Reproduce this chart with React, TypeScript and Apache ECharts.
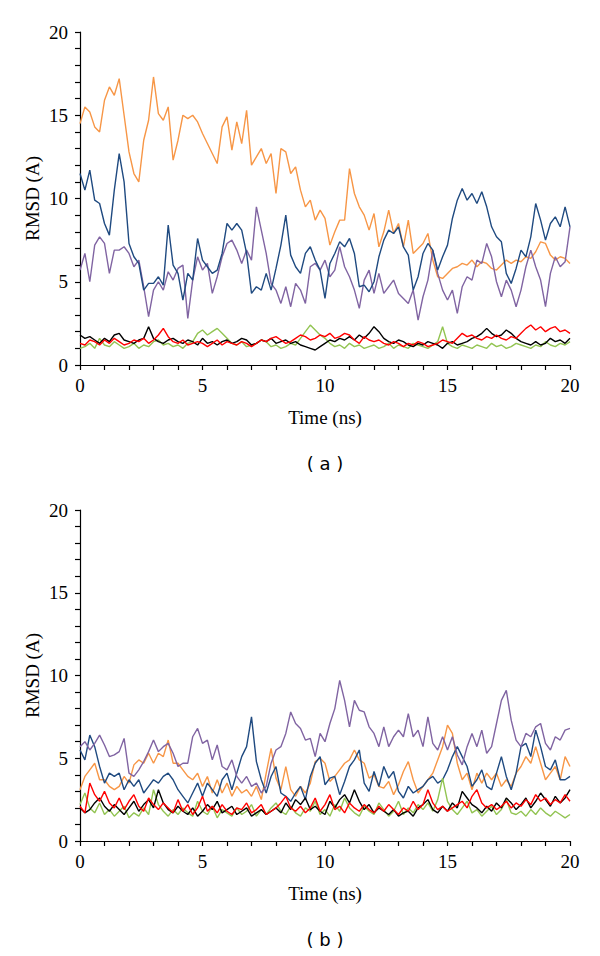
import React, { useEffect, useRef } from "react";
import * as echarts from "echarts";

// ---- Data (RMSD in Å, sampled every 0.2 ns from 0 to 20 ns) ----
const T_MAX = 20;
const X_TICKS = [0, 5, 10, 15, 20];
const Y_TICKS = [0, 5, 10, 15, 20];

// Panel (a)
const orangeA = [
  14.5, 15.5, 15.2, 14.3, 14.0, 15.9, 16.7, 16.2, 17.2, 15.0,
  12.8, 11.5, 11.0, 13.5, 14.7, 17.3, 15.1, 14.7, 15.5, 12.3,
  13.5, 15.0, 14.8, 15.0, 14.6, 13.9, 13.3, 12.7, 12.1, 14.3,
  14.9, 12.9, 14.6, 13.3, 15.3, 12.0, 12.5, 13.0, 12.1, 12.7,
  10.3, 13.0, 12.8, 11.5, 11.9, 10.5, 9.5, 9.9, 8.7, 9.3,
  8.8, 7.2, 8.0, 8.7, 8.7, 11.8, 10.3, 9.5, 9.0, 8.1,
  9.1, 7.1, 8.0, 9.3, 7.9, 8.5, 7.1, 8.7, 6.7, 7.0,
  7.3, 7.9, 6.3, 5.3, 5.2, 5.5, 5.8, 5.9, 6.1, 6.0,
  6.3, 5.9, 6.2, 6.1, 5.8, 5.7, 6.0, 6.3, 6.1, 6.3,
  6.2, 6.5, 6.4, 6.8, 7.4, 7.3, 6.6, 6.3, 6.5, 6.4,
  6.1,
];
const blueA = [
  11.5, 10.5, 11.7, 9.9, 9.7, 8.5, 7.8, 10.5, 12.7, 11.0,
  7.3, 6.5, 6.1, 4.5, 4.9, 4.9, 5.3, 4.8, 8.4, 6.0,
  5.5, 3.9, 5.5, 5.1, 7.6, 6.3, 5.9, 5.5, 5.7, 6.7,
  8.5, 8.1, 8.5, 8.1, 6.7, 4.3, 4.7, 4.5, 5.5, 4.5,
  5.8, 7.2, 9.0, 6.6, 5.9, 5.5, 6.7, 7.1, 6.3, 5.7,
  4.0, 6.1, 6.7, 7.4, 7.1, 7.6, 6.7, 4.7, 4.8, 4.4,
  5.0, 6.5, 7.5, 8.1, 7.9, 8.3, 7.1, 6.6, 4.5, 5.3,
  6.7, 7.3, 6.9, 5.7, 6.5, 7.2, 8.8, 9.9, 10.6, 9.9,
  10.3, 9.7, 10.4, 9.5, 8.3, 7.7, 7.4, 5.5, 4.9, 5.8,
  6.9, 6.5, 7.7, 9.7, 8.7, 7.5, 8.5, 8.9, 8.3, 9.5,
  8.3,
];
const purpleA = [
  5.7, 6.7, 5.0, 7.2, 7.7, 7.3, 5.5, 6.9, 6.9, 7.1,
  6.7, 5.9, 6.3, 4.7, 2.9, 4.5, 5.0, 4.5, 5.6, 5.1,
  5.8, 6.0, 2.8, 5.1, 6.5, 5.7, 6.1, 4.3, 5.3, 6.5,
  7.3, 7.5, 6.9, 6.1, 6.9, 6.3, 9.5, 8.1, 6.7, 4.9,
  4.5, 3.7, 4.7, 3.5, 4.9, 4.5, 3.7, 5.9, 6.1, 5.7,
  6.3, 5.3, 5.7, 7.1, 5.9, 5.3, 4.5, 3.4, 5.1, 5.7,
  4.3, 5.5, 4.3, 4.7, 5.1, 4.3, 4.0, 3.7, 4.5, 2.7,
  4.1, 5.1, 6.9, 5.5, 4.5, 3.9, 4.5, 3.1, 4.7, 5.3,
  5.1, 6.3, 6.1, 7.3, 6.5, 5.0, 4.1, 5.1, 4.5, 3.5,
  4.5, 5.9, 6.9, 5.9, 5.1, 3.5, 5.5, 6.5, 5.9, 6.2,
  8.3,
];
const blackA = [
  1.8, 1.6, 1.7, 1.5, 1.3, 1.6, 1.4, 1.8, 1.9, 1.5,
  1.4, 1.3, 1.5, 1.6, 2.3, 1.6, 1.4, 1.3, 1.5, 1.6,
  1.4, 1.3, 1.5, 1.4, 1.2, 1.6, 1.3, 1.4, 1.2, 1.4,
  1.5, 1.3, 1.4, 1.6, 1.5, 1.2, 1.3, 1.5, 1.4, 1.6,
  1.3, 1.4, 1.5, 1.3, 1.4, 1.2, 1.1, 1.0, 0.9, 1.1,
  1.3, 1.5, 1.4, 1.6, 1.5, 1.7, 1.5, 1.8, 1.6, 1.9,
  2.3, 2.0, 1.6, 1.4, 1.3, 1.5, 1.4, 1.2, 1.1, 1.3,
  1.2, 1.4, 1.3, 1.2, 1.0, 1.3, 1.4, 1.2, 1.3, 1.4,
  1.6, 1.7, 1.9, 2.2, 1.9, 1.7, 1.8, 2.1, 1.9, 1.6,
  1.4, 1.3, 1.2, 1.4, 1.2, 1.3, 1.6, 1.4, 1.5, 1.3,
  1.6,
];
const redA = [
  1.3, 1.2, 1.5, 1.4, 1.2, 1.5, 1.3, 1.6, 1.4, 1.2,
  1.3, 1.5, 1.4, 1.6, 1.3, 1.5, 1.8, 2.2, 1.7, 1.4,
  1.3, 1.5, 1.2, 1.3, 1.4, 1.3, 1.1, 1.3, 1.5, 1.2,
  1.4, 1.3, 1.2, 1.4, 1.3, 1.1, 1.3, 1.5, 1.4, 1.6,
  1.7, 1.5, 1.3, 1.4, 1.6, 1.8, 1.7, 1.5, 1.6, 1.8,
  1.7, 1.9, 1.6, 1.7, 1.9, 1.8, 1.5, 1.3, 1.7, 1.5,
  1.4, 1.5, 1.3, 1.2, 1.4, 1.3, 1.1, 1.3, 1.2, 1.4,
  1.3, 1.1, 1.2, 1.3, 1.5, 1.4, 1.3, 1.6, 1.9, 1.7,
  1.8, 1.6, 1.5, 1.7, 1.6, 1.8, 1.6, 1.5, 1.7, 1.6,
  1.9, 2.2, 2.4, 2.1, 2.3, 2.0, 2.2, 2.3, 2.0, 2.1,
  1.9,
];
const greenA = [
  1.0, 1.1, 1.3, 1.0, 1.6, 1.2, 1.1, 1.4, 1.2, 1.0,
  1.1, 1.3, 1.0, 1.2, 1.1, 1.4, 1.5, 1.2, 1.3, 1.1,
  1.2, 1.0, 1.3, 1.4, 1.9, 2.1, 1.8, 2.0, 2.2, 1.9,
  1.6, 1.3, 1.2, 1.4, 1.1, 1.2, 1.3, 1.5, 1.4, 1.1,
  1.2, 1.0, 1.1, 1.3, 1.2, 1.6, 2.0, 2.4, 2.1, 1.8,
  1.6, 1.3, 1.1, 1.2, 1.0, 1.3, 1.1, 1.2, 1.0, 1.1,
  1.2, 1.0, 1.1, 1.3, 1.0, 1.2, 1.1, 1.0, 1.3, 1.2,
  1.1, 1.0, 1.2, 1.4, 2.3, 1.3, 1.1, 1.0, 1.2, 1.1,
  1.0, 1.2, 1.1, 1.0, 1.3, 1.1, 1.2, 1.0, 1.1, 1.3,
  1.2, 1.1, 1.0, 1.2, 1.1, 1.4, 1.2, 1.1, 1.3, 1.2,
  1.4,
];

// Panel (b)
const orangeB = [
  3.1, 3.9, 4.3, 4.7, 3.7, 3.7, 3.3, 3.1, 3.3, 3.9,
  3.5, 4.6, 4.9, 4.7, 5.3, 4.7, 5.3, 5.1, 6.1, 4.7,
  4.7, 4.3, 3.9, 3.7, 4.1, 3.3, 3.9, 2.9, 3.7, 2.9,
  3.5, 2.7, 3.3, 2.9, 3.1, 2.7, 3.3, 2.5, 4.1, 5.6,
  3.8, 3.1, 4.5, 3.1, 2.7, 3.3, 2.9, 3.5, 4.8, 5.0,
  4.7, 3.6, 3.9, 4.3, 4.7, 4.9, 5.5, 4.9, 4.7, 3.8,
  4.0, 3.3, 3.2, 3.6, 2.8, 3.4, 4.2, 4.8, 3.7, 2.9,
  3.3, 3.7, 4.1, 4.9, 5.7, 7.0, 6.5, 4.7, 3.7, 4.1,
  3.1, 4.1, 3.5, 4.1, 3.7, 4.1, 3.3, 3.7, 3.3, 4.1,
  4.5, 5.1, 4.7, 5.7, 4.7, 3.7, 4.1, 4.5, 3.7, 5.1,
  4.5,
];
const blueB = [
  5.5, 4.9, 6.4, 5.7, 4.5, 3.5, 4.1, 3.9, 4.1, 3.1,
  3.7, 3.3, 3.7, 2.9, 3.3, 3.7, 3.5, 3.9, 4.1, 3.7,
  3.1, 2.7, 2.3, 2.9, 3.5, 2.7, 3.5, 3.1, 2.7, 3.7,
  4.1, 3.1, 4.1, 5.1, 5.7, 7.5, 4.8, 3.7, 2.9, 3.9,
  4.5, 2.9, 2.7, 2.4, 2.9, 3.3, 2.5, 3.9, 4.7, 5.1,
  3.4, 3.8, 3.9, 2.8, 3.6, 4.5, 4.9, 5.5, 3.5, 3.0,
  4.2, 3.3, 4.5, 3.8, 4.2, 3.0, 2.6, 3.3, 2.9, 3.1,
  3.3, 3.7, 3.9, 3.5, 3.7, 4.3, 5.1, 5.7, 5.1, 4.5,
  3.3, 3.7, 4.3, 3.3, 3.1, 4.1, 5.1, 3.9, 3.1, 4.1,
  5.7, 5.9, 5.1, 6.7, 5.7, 4.5, 4.3, 4.9, 3.7, 3.7,
  3.9,
];
const purpleB = [
  5.7, 6.0, 5.5, 5.9, 6.4, 5.8, 5.1, 5.2, 5.4, 6.2,
  4.1, 3.9, 4.3, 4.8, 5.4, 6.1, 5.4, 5.7, 5.9, 5.3,
  4.5, 4.7, 4.7, 6.3, 6.8, 5.9, 6.1, 4.9, 5.8, 4.5,
  4.3, 4.9, 3.9, 3.5, 3.9, 3.3, 3.5, 2.9, 3.3, 4.7,
  5.5, 5.7, 6.5, 7.8, 7.1, 6.8, 6.1, 6.2, 5.1, 6.5,
  6.0, 7.1, 8.0, 9.7, 8.5, 6.9, 8.5, 7.9, 7.8, 6.9,
  6.5, 5.7, 6.9, 5.7, 6.3, 6.7, 6.3, 7.7, 6.3, 6.7,
  5.7, 7.5, 5.9, 5.5, 6.3, 5.5, 6.3, 5.2, 4.6, 5.7,
  6.5, 5.7, 6.7, 5.3, 5.7, 7.1, 8.5, 9.1, 7.3, 6.1,
  5.7, 6.5, 6.3, 6.9, 7.1, 5.9, 5.5, 6.3, 6.1, 6.7,
  6.8,
];
const blackB = [
  2.0, 1.7, 1.9, 2.3, 2.6, 2.1, 1.8, 2.2, 1.9, 1.6,
  2.0, 2.4, 1.8, 2.2, 2.5, 2.0, 3.1, 2.3, 1.9, 1.7,
  2.1, 1.8, 1.6, 2.0, 1.5, 1.8, 2.2, 1.9, 2.4, 1.7,
  1.9, 2.1, 1.6, 1.8, 2.0, 1.5, 1.7, 1.9, 1.6, 1.8,
  2.0, 1.7, 2.3, 1.9, 2.5, 2.2, 2.6, 1.9, 2.1, 1.8,
  1.6, 2.4, 2.0, 2.5, 2.8, 2.3, 3.1, 2.4, 1.9, 2.2,
  1.7, 2.0, 1.8, 1.6, 1.9, 1.5, 1.7, 1.8, 1.5, 2.0,
  2.2, 2.5, 1.9, 1.7, 2.1, 1.8, 2.3, 2.0, 3.0, 2.6,
  2.2, 2.0, 1.7, 2.1, 1.8, 2.3, 2.0, 2.6, 2.3, 1.9,
  2.2, 2.6, 2.0, 2.4, 2.9, 2.5, 2.1, 2.7, 2.3, 2.6,
  3.1,
];
const redB = [
  2.1, 1.7, 3.5, 2.8, 2.4, 3.0, 2.3, 2.0, 2.6, 1.9,
  2.4, 2.8, 2.1, 1.8, 2.6, 2.2, 1.9, 2.3, 2.0, 1.7,
  2.5, 1.8, 2.2, 1.6, 2.0, 2.7, 1.8, 2.1, 1.7, 2.2,
  1.8, 1.6, 2.0, 1.9, 2.3, 1.7, 1.9, 2.2, 1.6, 1.8,
  2.0, 2.3, 2.7, 2.0, 1.8, 2.1, 1.7, 2.0, 2.6, 1.8,
  2.2, 2.8, 1.9, 2.1, 1.7, 2.3, 2.0, 1.8, 2.2, 1.9,
  1.7, 2.1, 1.8, 2.2, 1.9, 1.6, 2.0, 1.8, 2.4, 1.9,
  2.2, 3.1, 2.3, 1.9, 2.1, 1.8, 2.0, 2.2, 2.4, 2.0,
  2.7, 3.1, 2.3, 2.0, 2.2, 1.9, 2.1, 2.4, 2.0, 2.3,
  2.1, 2.5, 2.2, 2.8, 2.4, 2.6, 2.2, 2.5, 2.3, 2.8,
  2.4,
];
const greenB = [
  2.2, 2.9, 2.0, 1.7, 2.3, 1.6, 1.9, 1.5, 1.8, 2.1,
  1.4, 1.7, 1.5, 2.0, 1.6, 3.1, 2.2, 1.8, 1.5, 1.9,
  1.6, 2.0, 1.7, 1.5, 2.4, 1.8, 1.6, 2.1, 1.4, 1.9,
  1.7, 1.5, 2.0, 1.6, 1.8, 2.2, 1.5, 1.9, 1.6, 2.0,
  2.3, 1.8, 1.6, 2.1, 1.7, 1.5, 2.0, 1.8, 2.4, 1.6,
  1.9, 1.5, 2.2, 1.8, 2.6, 2.0, 1.7, 1.5, 2.1, 1.8,
  1.6, 2.3, 1.9, 1.5, 1.8, 2.4, 1.6, 2.0, 1.7, 2.2,
  1.9, 2.3, 1.8, 2.5, 3.8, 2.4, 1.9, 1.6, 2.0, 2.4,
  1.7, 1.9, 1.5, 1.8, 2.1, 1.6, 1.9, 2.5, 1.7, 1.6,
  1.8, 1.5, 1.9, 1.6, 2.0, 1.7, 1.5, 1.8, 1.6, 1.4,
  1.6,
];

const COLORS = {
  orange: "#F79646",
  blue: "#1F4A80",
  purple: "#8064A2",
  black: "#000000",
  red: "#FF0000",
  green: "#92C452",
};

const SERIF = "'Liberation Serif', 'Times New Roman', serif";
const SANS = "'DejaVu Sans', Verdana, sans-serif";

function toPairs(arr: number[]): [number, number][] {
  const step = T_MAX / (arr.length - 1);
  return arr.map((v, i) => [+(i * step).toFixed(4), v]);
}

const PANELS = [
  {
    top: 32,
    height: 333,
    label: "( a )",
    series: [
      { name: "orange", data: orangeA, color: COLORS.orange },
      { name: "purple", data: purpleA, color: COLORS.purple },
      { name: "blue", data: blueA, color: COLORS.blue },
      { name: "green", data: greenA, color: COLORS.green },
      { name: "black", data: blackA, color: COLORS.black },
      { name: "red", data: redA, color: COLORS.red },
    ],
  },
  {
    top: 510,
    height: 331,
    label: "( b )",
    series: [
      { name: "orange", data: orangeB, color: COLORS.orange },
      { name: "blue", data: blueB, color: COLORS.blue },
      { name: "purple", data: purpleB, color: COLORS.purple },
      { name: "green", data: greenB, color: COLORS.green },
      { name: "black", data: blackB, color: COLORS.black },
      { name: "red", data: redB, color: COLORS.red },
    ],
  },
];

export default function App() {
  const ref = useRef<HTMLDivElement>(null);

  useEffect(() => {
    if (!ref.current) return;
    const chart = echarts.init(ref.current, undefined, { renderer: "svg" });

    const axisLine = { show: true, onZero: false, lineStyle: { color: "#000", width: 1.2 } };
    const grid: any[] = [];
    const xAxis: any[] = [];
    const yAxis: any[] = [];
    const series: any[] = [];
    const graphic: any[] = [];

    PANELS.forEach((p, gi) => {
      grid.push({ left: 80, width: 490, top: p.top, height: p.height, containLabel: false });
      xAxis.push({
        type: "value",
        gridIndex: gi,
        min: X_TICKS[0],
        max: X_TICKS[X_TICKS.length - 1],
        interval: X_TICKS[1] - X_TICKS[0],
        axisLine,
        axisTick: { show: true, length: 5, lineStyle: { color: "#000", width: 1.2 } },
        minorTick: { show: true, splitNumber: 5, length: 5, lineStyle: { color: "#000", width: 1.2 } },
        splitLine: { show: false },
        minorSplitLine: { show: false },
        axisLabel: { fontFamily: SERIF, fontSize: 19, color: "#000", margin: 11 },
      });
      yAxis.push({
        type: "value",
        gridIndex: gi,
        min: Y_TICKS[0],
        max: Y_TICKS[Y_TICKS.length - 1],
        interval: Y_TICKS[1] - Y_TICKS[0],
        axisLine,
        axisTick: { show: true, length: 5, lineStyle: { color: "#000", width: 1.2 } },
        minorTick: { show: true, splitNumber: 5, length: 5, lineStyle: { color: "#000", width: 1.2 } },
        splitLine: { show: false },
        minorSplitLine: { show: false },
        axisLabel: { fontFamily: SERIF, fontSize: 19, color: "#000", margin: 12 },
      });
      p.series.forEach((s) => {
        series.push({
          type: "line",
          name: s.name,
          xAxisIndex: gi,
          yAxisIndex: gi,
          data: toPairs(s.data),
          showSymbol: false,
          symbol: "none",
          lineStyle: { color: s.color, width: 1.4 },
          itemStyle: { color: s.color },
          emphasis: { disabled: true },
        });
      });
      const axisY = p.top + p.height;
      graphic.push({
        type: "text",
        x: 325,
        y: axisY + 52,
        style: {
          text: "Time (ns)",
          font: `19px ${SERIF}`,
          fill: "#000",
          textAlign: "center",
          textVerticalAlign: "middle",
        },
      });
      graphic.push({
        type: "text",
        x: 325,
        y: axisY + 98,
        style: {
          text: p.label,
          font: `18px ${SANS}`,
          fill: "#000",
          textAlign: "center",
          textVerticalAlign: "middle",
        },
      });
      graphic.push({
        type: "text",
        x: 32,
        y: p.top + p.height / 2,
        rotation: Math.PI / 2,
        style: {
          text: "RMSD (A)",
          font: `19px ${SERIF}`,
          fill: "#000",
          textAlign: "center",
          textVerticalAlign: "middle",
        },
      });
    });

    chart.setOption({
      animation: false,
      backgroundColor: "#ffffff",
      grid,
      xAxis,
      yAxis,
      series,
      graphic,
    });

    return () => chart.dispose();
  }, []);

  return (
    <div
      ref={ref}
      style={{ position: "fixed", left: 0, top: 0, width: 600, height: 956, background: "#fff" }}
    />
  );
}
